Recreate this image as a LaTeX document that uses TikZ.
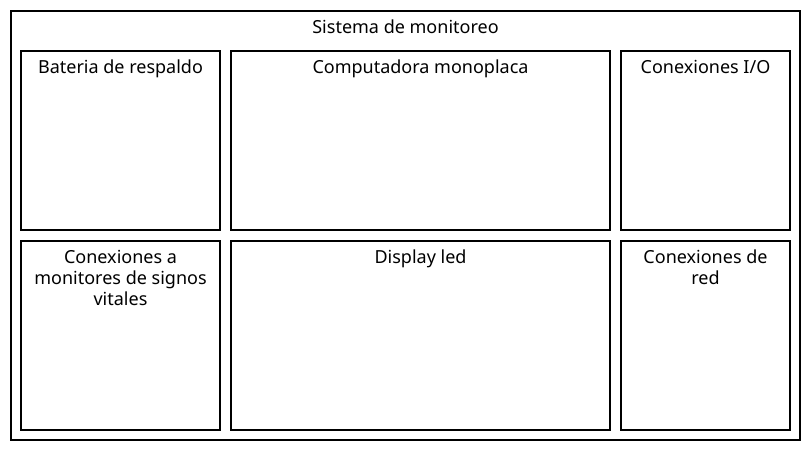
\documentclass[tikz,border=0pt]{standalone}
\usepackage{fontspec}
\setmainfont{Noto Sans}
\begin{document}
\begin{tikzpicture}[x=1pt,y=-1pt,
  box/.style={draw=black, line width=1.6pt, fill=none},
  lbl/.style={anchor=north, inner sep=0pt, align=center, font=\fontsize{18}{21}\selectfont}]
\useasboundingbox (0,0) rectangle (810,450);
\draw[box] (11,11) rectangle (800,440);
\coordinate (outtop) at (405.5,11);
\node[lbl] (t0) at ([shift={(0,7.3)}]outtop) {\strut Sistema de monitoreo};
% row 1
\draw[box] (21,51) rectangle (220,230);
\coordinate (b1) at (120.5,51);
\node[lbl] (t1) at ([shift={(0,7.3)}]b1) {\strut Bateria de respaldo};
\draw[box] (231,51) rectangle (610,230);
\coordinate (b2) at (420.5,51);
\node[lbl] (t2) at ([shift={(0,7.3)}]b2) {\strut Computadora monoplaca};
\draw[box] (621,51) rectangle (790,230);
\coordinate (b3) at (705.5,51);
\node[lbl] (t3) at ([shift={(0,7.3)}]b3) {\strut Conexiones I/O};
% row 2
\draw[box] (21,241) rectangle (220,430);
\coordinate (b4) at (120.5,241);
\node[lbl] (t4) at ([shift={(0,7.3)}]b4) {\strut Conexiones a\\monitores de signos\\vitales};
\draw[box] (231,241) rectangle (610,430);
\coordinate (b5) at (420.5,241);
\node[lbl] (t5) at ([shift={(0,7.3)}]b5) {\strut Display led};
\draw[box] (621,241) rectangle (790,430);
\coordinate (b6) at (705.5,241);
\node[lbl] (t6) at ([shift={(0,7.3)}]b6) {\strut Conexiones de\\red};
\end{tikzpicture}
\end{document}
